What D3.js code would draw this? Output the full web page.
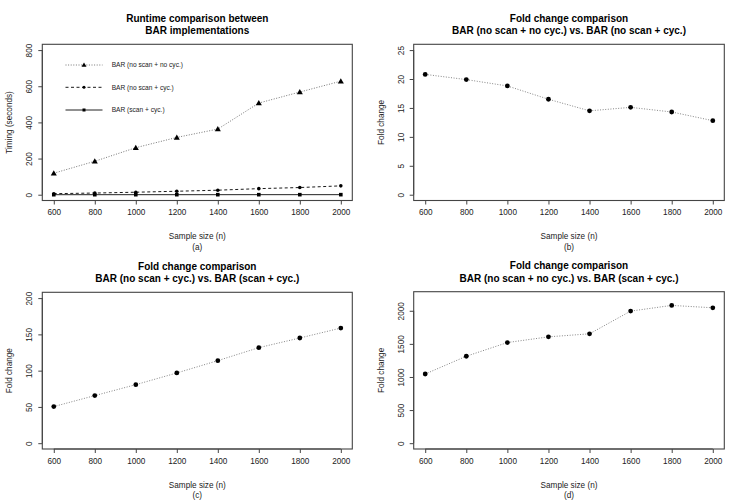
<!DOCTYPE html>
<html><head><meta charset="utf-8">
<script src="https://cdn.jsdelivr.net/npm/d3@7"></script>
<style>
body{margin:0;background:#fff;}
text{font-family:"Liberation Sans",Arial,Helvetica,sans-serif;}
</style></head>
<body><svg id="c" width="729" height="500"></svg>
<script>
const sampleSizes = [600, 800, 1000, 1200, 1400, 1600, 1800, 2000];
const xTicks = [600, 800, 1000, 1200, 1400, 1600, 1800, 2000];
const runtimeNoScanNoCyc = [119, 185, 260, 317, 363, 507, 568, 628];
const runtimeNoScanCyc = [5.7, 9.3, 13.8, 19.2, 25, 33.6, 39.7, 49];
const runtimeScanCyc = [0.11, 0.14, 0.17, 0.2, 0.22, 0.25, 0.27, 0.31];
const foldB = [20.8, 19.9, 18.8, 16.5, 14.5, 15.1, 14.3, 12.8];
const foldC = [50.5, 65.6, 80.7, 96.8, 113.8, 131.7, 145, 158.7];
const foldD = [1045, 1313, 1520, 1606, 1652, 1995, 2081, 2045];
const yTicksA = [0, 200, 400, 600, 800];
const yTicksB = [0, 5, 10, 15, 20, 25];
const yTicksC = [0, 50, 100, 150, 200];
const yTicksD = [0, 500, 1000, 1500, 2000];
const legendLabels = ["BAR (no scan + no cyc.)", "BAR (no scan + cyc.)", "BAR (scan + cyc.)"];

const svg = d3.select("#c");

function ext(a, b) { const d = (b - a) * 0.04; return [a - d, b + d]; }

const panels = [
  {box: [42.3, 44.3, 352.3, 200.5], ylim: [0, 800], yTicks: yTicksA,
   title: ["Runtime comparison between", "BAR implementations"], ylab: "Timing (seconds)", tag: "(a)"},
  {box: [413.7, 44.3, 724.3, 200.5], ylim: [0, 25], yTicks: yTicksB,
   title: ["Fold change comparison", "BAR (no scan + no cyc.) vs. BAR (no scan + cyc.)"], ylab: "Fold change", tag: "(b)", series: foldB},
  {box: [42.3, 292.3, 352.3, 449], ylim: [0, 200], yTicks: yTicksC,
   title: ["Fold change comparison", "BAR (no scan + cyc.) vs. BAR (scan + cyc.)"], ylab: "Fold change", tag: "(c)", series: foldC},
  {box: [413.7, 291.7, 724.3, 449], ylim: [0, 2200], yTicks: yTicksD,
   title: ["Fold change comparison", "BAR (no scan + no cyc.) vs. BAR (scan + cyc.)"], ylab: "Fold change", tag: "(d)", series: foldD}
];

const boxColor = "#444";
const txtColor = "#222";

panels.forEach((p, i) => {
  const [x0, y0, x1, y1] = p.box;
  const x = d3.scaleLinear().domain(ext(600, 2000)).range([x0, x1]);
  const y = d3.scaleLinear().domain(ext(p.ylim[0], p.ylim[1])).range([y1, y0]);
  const g = svg.append("g");
  const cx = (x0 + x1) / 2;

  p.title.forEach((t, k) => {
    g.append("text").attr("x", cx).attr("y", y0 - 22.5 + k * 12.3)
      .attr("text-anchor", "middle").attr("font-weight", "bold").attr("font-size", 10)
      .attr("fill", "#000").text(t);
  });

  g.append("rect").attr("x", x0).attr("y", y0).attr("width", x1 - x0).attr("height", y1 - y0)
    .attr("fill", "none").attr("stroke", boxColor).attr("stroke-width", 1.1);

  const xa = g.append("g").attr("transform", `translate(0,${y1})`)
    .call(d3.axisBottom(x).tickValues(xTicks).tickSize(4).tickPadding(5).tickFormat(d3.format("d")));
  xa.select(".domain").attr("d", `M${x(600)},0H${x(2000)}`).attr("stroke", boxColor);
  xa.selectAll(".tick line").attr("stroke", boxColor);
  xa.selectAll(".tick text").attr("font-size", 8.2).attr("fill", txtColor)
    .attr("font-family", '"Liberation Sans",Arial,sans-serif');

  const ya = g.append("g").attr("transform", `translate(${x0},0)`)
    .call(d3.axisLeft(y).tickValues(p.yTicks).tickSize(4).tickFormat(d3.format("d")));
  ya.select(".domain").attr("d", `M0,${y(p.yTicks[0])}V${y(p.yTicks[p.yTicks.length - 1])}`).attr("stroke", boxColor);
  ya.selectAll(".tick line").attr("stroke", boxColor);
  ya.selectAll(".tick text").attr("font-size", 8.2).attr("fill", txtColor)
    .attr("font-family", '"Liberation Sans",Arial,sans-serif')
    .attr("x", null).attr("dy", null)
    .attr("text-anchor", "middle")
    .attr("transform", "translate(-10,0) rotate(-90)")
    .attr("y", 0);

  g.append("text").attr("x", cx).attr("y", y1 + 38.5).attr("text-anchor", "middle")
    .attr("font-size", 8.2).attr("fill", txtColor).text("Sample size (n)");
  g.append("text").attr("x", cx).attr("y", y1 + 49).attr("text-anchor", "middle")
    .attr("font-size", 8.2).attr("fill", txtColor).text(p.tag);
  g.append("text").attr("transform", `translate(${x0 - 30},${(y0 + y1) / 2}) rotate(-90)`)
    .attr("text-anchor", "middle").attr("font-size", 8.2).attr("fill", txtColor).text(p.ylab);

  const line = d3.line().x((d, j) => x(sampleSizes[j])).y(d => y(d));

  if (p.series) {
    g.append("path").datum(p.series).attr("d", line).attr("fill", "none")
      .attr("stroke", "#777").attr("stroke-width", 0.9).attr("stroke-dasharray", "1,1.6");
    g.selectAll("circle.pt").data(p.series).enter().append("circle")
      .attr("cx", (d, j) => x(sampleSizes[j])).attr("cy", d => y(d)).attr("r", 2.4).attr("fill", "#000");
  } else {
    const tri = d3.symbol().type(d3.symbolTriangle).size(16);
    g.append("path").datum(runtimeNoScanNoCyc).attr("d", line).attr("fill", "none")
      .attr("stroke", "#666").attr("stroke-width", 0.9).attr("stroke-dasharray", "1,1.6");
    g.selectAll("path.tri").data(runtimeNoScanNoCyc).enter().append("path")
      .attr("transform", (d, j) => `translate(${x(sampleSizes[j])},${y(d) + 0.5})`).attr("d", tri).attr("fill", "#000");
    g.append("path").datum(runtimeNoScanCyc).attr("d", line).attr("fill", "none")
      .attr("stroke", "#000").attr("stroke-width", 0.9).attr("stroke-dasharray", "3,2.5");
    g.selectAll("circle.s2").data(runtimeNoScanCyc).enter().append("circle")
      .attr("cx", (d, j) => x(sampleSizes[j])).attr("cy", d => y(d)).attr("r", 1.8).attr("fill", "#000");
    g.append("path").datum(runtimeScanCyc).attr("d", line).attr("fill", "none")
      .attr("stroke", "#222").attr("stroke-width", 1);
    g.selectAll("rect.s3").data(runtimeScanCyc).enter().append("rect")
      .attr("x", (d, j) => x(sampleSizes[j]) - 1.8).attr("y", d => y(d) - 1.8)
      .attr("width", 3.6).attr("height", 3.6).attr("fill", "#000");

    const ly = [65, 87.3, 110];
    const styles = [
      {stroke: "#666", dash: "1,1.6", w: 0.9},
      {stroke: "#000", dash: "3,2.5", w: 0.9},
      {stroke: "#222", dash: null, w: 1}
    ];
    legendLabels.forEach((lab, k) => {
      g.append("line").attr("x1", 65.5).attr("x2", 102.5).attr("y1", ly[k]).attr("y2", ly[k])
        .attr("stroke", styles[k].stroke).attr("stroke-width", styles[k].w)
        .attr("stroke-dasharray", styles[k].dash);
      if (k === 0) g.append("path").attr("transform", `translate(84,${ly[k] + 0.4})`)
        .attr("d", d3.symbol().type(d3.symbolTriangle).size(11)).attr("fill", "#000");
      if (k === 1) g.append("circle").attr("cx", 84).attr("cy", ly[k]).attr("r", 1.5).attr("fill", "#000");
      if (k === 2) g.append("rect").attr("x", 82.5).attr("y", ly[k] - 1.5).attr("width", 3).attr("height", 3).attr("fill", "#000");
      g.append("text").attr("x", 111.7).attr("y", ly[k] + 2.3).attr("font-size", 6.6)
        .attr("fill", txtColor).text(lab);
    });
  }
});
</script></body></html>
